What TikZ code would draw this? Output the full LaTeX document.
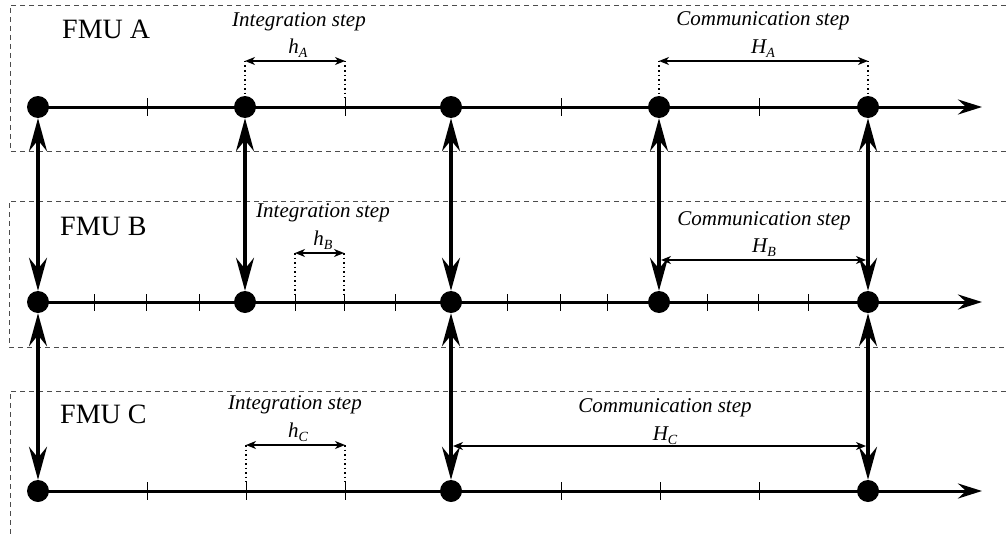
\documentclass[tikz,border=0pt]{standalone}
\usepackage{fontspec}
\setmainfont{Liberation Serif}
\usetikzlibrary{arrows.meta}
\newcommand{\dimlbl}[2]{\textit{#1}\raisebox{-4pt}{\fontsize{14}{14}\selectfont\textit{#2}}}
\begin{document}
\begin{tikzpicture}[x=1pt,y=-1pt,
 dot/.style={circle,fill=black,inner sep=0pt,minimum size=22pt},
 timeline/.style={line width=3pt,-{Stealth[length=24pt,width=15pt,inset=8pt]}},
 sync/.style={line width=3.5pt,{Stealth[length=33pt,width=18pt,inset=11pt]}-{Stealth[length=33pt,width=18pt,inset=11pt]}},
 tickmark/.style={line width=1pt},
 dimline/.style={line width=1.2pt,{Stealth[length=10pt,width=8pt,inset=3pt]}-{Stealth[length=10pt,width=8pt,inset=3pt]}},
 guide/.style={line width=1.3pt,dash pattern=on 1.5pt off 3pt},
 frame/.style={black!70,line width=0.8pt,dash pattern=on 5pt off 4pt},
 fmu/.style={font=\fontsize{28}{30}\selectfont,anchor=base west,inner sep=0pt},
 lbl/.style={font=\fontsize{21}{24}\selectfont\itshape,anchor=base,inner sep=0pt}]
\useasboundingbox (0,0) rectangle (1006,535);
% frames
\draw[frame] (1006,5) -- (10,5) -- (10,151) -- (1006,151);
\draw[frame] (1006,201) -- (9,201) -- (9,347) -- (1006,347);
\draw[frame] (1006,391) -- (10,391) -- (10,535);
% dots
\foreach \n/\x in {1/38,2/245,3/451,4/659,5/868}{
  \node[dot] (a\n) at (\x,107) {};
  \node[dot] (b\n) at (\x,302) {};
}
\node[dot] (c1) at (38,491) {};
\node[dot] (c2) at (451,491) {};
\node[dot] (c3) at (868,491) {};
% timelines
\coordinate (aend) at (982,107);
\coordinate (bend) at (982,302);
\coordinate (cend) at (982,491);
\draw[timeline] (a1.center) -- (aend);
\draw[timeline] (b1.center) -- (bend);
\draw[timeline] (c1.center) -- (cend);
% ticks
\foreach \x in {147,345,561,759}{\draw[tickmark] (\x,98) -- (\x,116);}
\foreach \x in {94,146,199,295,344,395,507,560,607,707,758,808}{\draw[tickmark] (\x,294) -- (\x,311);}
\foreach \x in {147,246,345,561,660,759}{\draw[tickmark] (\x,482) -- (\x,500);}
% sync arrows
\foreach \n in {1,...,5}{\draw[sync] (a\n) -- (b\n);}
\draw[sync] (b1) -- (c1);
\draw[sync] (b3) -- (c2);
\draw[sync] (b5) -- (c3);
% FMU A dimensions
\coordinate (ha1) at (245,61); \coordinate (ha2) at (345,61);
\coordinate (ta2) at (345,98);
\draw[guide] (ha1) -- (a2.north);
\draw[guide] (ha2) -- (ta2);
\draw[dimline] (ha1) -- (ha2);
\coordinate (Ha1) at (659,61); \coordinate (Ha2) at (868,61);
\draw[guide] (Ha1) -- (a4.north);
\draw[guide] (Ha2) -- (a5.north);
\draw[dimline] (Ha1) -- (Ha2);
% FMU B dimensions
\coordinate (hb1) at (295,253); \coordinate (hb2) at (344,253);
\coordinate (tb1) at (295,294); \coordinate (tb2) at (344,294);
\draw[guide] (hb1) -- (tb1);
\draw[guide] (hb2) -- (tb2);
\draw[dimline] (hb1) -- (hb2);
\coordinate (Hb1) at (661,260); \coordinate (Hb2) at (866,260);
\draw[dimline] (Hb1) -- (Hb2);
% FMU C dimensions
\coordinate (hc1) at (246,445); \coordinate (hc2) at (345,445);
\coordinate (tc1) at (246,482); \coordinate (tc2) at (345,482);
\draw[guide] (hc1) -- (tc1);
\draw[guide] (hc2) -- (tc2);
\draw[dimline] (hc1) -- (hc2);
\coordinate (Hc1) at (453,446); \coordinate (Hc2) at (866,446);
\draw[dimline] (Hc1) -- (Hc2);
% labels
\node[fmu] (la) at (62,39) {FMU A};
\node[fmu] (lb) at (60,235) {FMU B};
\node[fmu] (lc) at (60,423) {FMU C};
\node[lbl] (ia) at (299,27) {Integration step};
\node[lbl] (ib) at (323,217) {Integration step};
\node[lbl] (ic) at (295,409) {Integration step};
\node[lbl] (sa) at (298,53) {\dimlbl{h}{A}};
\node[lbl] (sb) at (323,245) {\dimlbl{h}{B}};
\node[lbl] (sc) at (298,437) {\dimlbl{h}{C}};
\node[lbl] (ca) at (763,26) {Communication step};
\node[lbl] (cb) at (764,225) {Communication step};
\node[lbl] (cc) at (665,412) {Communication step};
\node[lbl] (Sa) at (763,53) {\dimlbl{H}{A}};
\node[lbl] (Sb) at (764,252) {\dimlbl{H}{B}};
\node[lbl] (Sc) at (665,440) {\dimlbl{H}{C}};
\end{tikzpicture}
\end{document}
